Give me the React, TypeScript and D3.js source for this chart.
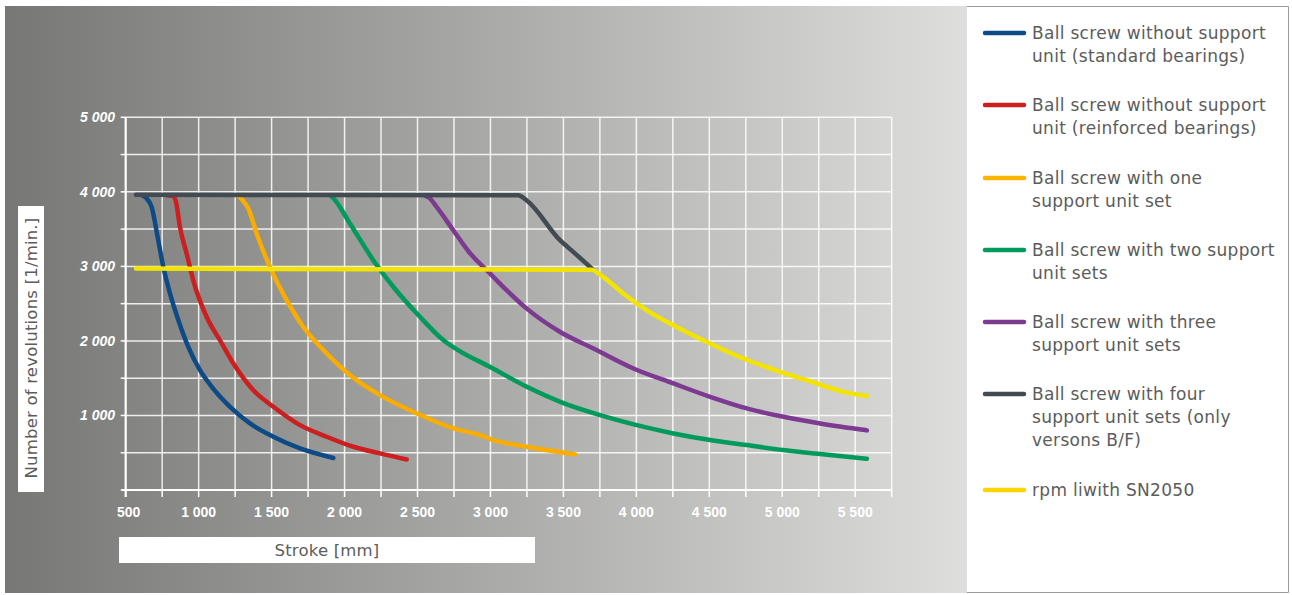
import React from "react";
import * as d3 from "d3";

const xTicks = [500, 1000, 1500, 2000, 2500, 3000, 3500, 4000, 4500, 5000, 5500];
const xTickLabels = ["500", "1 000", "1 500", "2 000", "2 500", "3 000", "3 500", "4 000", "4 500", "5 000", "5 500"];
const yTicks = [1000, 2000, 3000, 4000, 5000];
const yTickLabels = ["1 000", "2 000", "3 000", "4 000", "5 000"];

const blue: [number, number][] = [
  [615, 3950], [640, 3920], [678, 3794], [723, 3348], [758, 2991], [804, 2634], [861, 2277], [929, 1919],
  [1009, 1607], [1090, 1384], [1215, 1116], [1352, 893], [1512, 714], [1695, 558], [1923, 430],
];
const red: [number, number][] = [
  [790, 3950], [830, 3940], [845, 3860], [872, 3526], [918, 3170], [963, 2812], [1055, 2321], [1146, 2009],
  [1238, 1697], [1375, 1339], [1512, 1116], [1695, 870], [1878, 714], [2060, 580], [2243, 491], [2426, 410],
];
const orange: [number, number][] = [
  [1270, 3950], [1300, 3890], [1341, 3772], [1398, 3438], [1489, 2991], [1604, 2545], [1718, 2187], [1878, 1831],
  [2038, 1540], [2243, 1272], [2495, 1027], [2746, 826], [2929, 737], [3020, 670], [3249, 580], [3580, 478],
];
const green: [number, number][] = [
  [1905, 3950], [1930, 3900], [2038, 3572], [2198, 3080], [2335, 2723], [2518, 2321], [2678, 2009], [2792, 1860],
  [2998, 1651], [3249, 1384], [3478, 1183], [3752, 1004], [4003, 870], [4254, 759], [4506, 670], [4757, 603],
  [5008, 536], [5260, 482], [5580, 420],
];
const purple: [number, number][] = [
  [2550, 3950], [2580, 3920], [2632, 3794], [2746, 3482], [2850, 3200], [2998, 2902], [3112, 2678], [3249, 2433],
  [3478, 2120], [3706, 1898], [3980, 1630], [4254, 1429], [4506, 1250], [4757, 1094], [5008, 982], [5260, 893],
  [5580, 800],
];
const darkGray: [number, number][] = [
  [570, 3960], [3190, 3955], [3249, 3884], [3478, 3348], [3569, 3192], [3706, 2950],
];
const yellow: [number, number][] = [
  [570, 2970], [3690, 2955], [3774, 2857], [3912, 2634], [4072, 2411], [4254, 2210], [4483, 1986], [4734, 1764],
  [4986, 1585], [5237, 1429], [5420, 1317], [5580, 1260],
];

const seriesNames = [
  "Ball screw without support unit (standard bearings)",
  "Ball screw without support unit (reinforced bearings)",
  "Ball screw with one support unit set",
  "Ball screw with two support unit sets",
  "Ball screw with three support unit sets",
  "Ball screw with four support unit sets (only versons B/F)",
  "rpm liwith SN2050",
];
const legendLines = [
  ["Ball screw without support", "unit (standard bearings)"],
  ["Ball screw without support", "unit (reinforced bearings)"],
  ["Ball screw with one", "support unit set"],
  ["Ball screw with two support", "unit sets"],
  ["Ball screw with three", "support unit sets"],
  ["Ball screw with four", "support unit sets (only", "versons B/F)"],
  ["rpm liwith SN2050"],
];
const seriesData = [blue, red, orange, green, purple, darkGray, yellow];
const lineColors = ["#0e4b86", "#cc1f1f", "#f8ad00", "#009a5c", "#7d3a91", "#414b51", "#f2e400"];
const legendColors = ["#0e4b86", "#cc1f1f", "#fbb400", "#009a5c", "#7d3a91", "#414b51", "#ffd400"];

export default function App() {
  const x = d3.scaleLinear().domain([500, 5750]).range([125.7, 891.7]);
  const y = d3.scaleLinear().domain([0, 5000]).range([490, 117.3]);
  const line = d3
    .line<[number, number]>()
    .x((d) => x(d[0]))
    .y((d) => y(d[1]))
    .curve(d3.curveMonotoneX);

  const vGrid = d3.range(750, 5751, 250);
  const hGrid = d3.range(500, 5001, 500);
  const xMinor = d3.range(500, 5751, 250);
  const yMinor = d3.range(0, 5001, 500);

  const legendY = [33, 105, 178, 250, 322, 394, 490];
  const font = "'DejaVu Sans', 'Liberation Sans', Arial, sans-serif";

  return (
    <svg
      width={1292}
      height={595}
      style={{ position: "absolute", left: 0, top: 0, display: "block" }}
      xmlns="http://www.w3.org/2000/svg"
    >
      <defs>
        <linearGradient id="bg" x1="0" x2="1" y1="0" y2="0">
          <stop offset="0" stopColor="#777775" />
          <stop offset="0.5" stopColor="#a9a9a8" />
          <stop offset="1" stopColor="#dededd" />
        </linearGradient>
      </defs>
      <rect x={0} y={0} width={1292} height={595} fill="#ffffff" />
      <rect x={5} y={6} width={962} height={587} fill="url(#bg)" />
      {/* legend box */}
      <rect x={967} y={6} width={321} height={587} fill="#ffffff" />
      <path d="M967,6.5 H1288.5 V592.5 H967" fill="none" stroke="#9a9a9a" strokeWidth={1} />

      {/* grid */}
      <g stroke="#ffffff" strokeOpacity={0.85} strokeWidth={1.5}>
        {vGrid.map((v) => (
          <line key={"v" + v} x1={x(v)} x2={x(v)} y1={y(5000)} y2={y(0)} />
        ))}
        {hGrid.map((v) => (
          <line key={"h" + v} x1={x(500)} x2={x(5750)} y1={y(v)} y2={y(v)} />
        ))}
      </g>
      {/* axes */}
      <g stroke="#ffffff" strokeWidth={2.2}>
        <line x1={x(500)} x2={x(500)} y1={y(5000)} y2={y(0) + 7} />
        <line x1={x(500) - 4} x2={x(5750)} y1={y(0)} y2={y(0)} />
      </g>
      <g stroke="#ffffff" strokeWidth={1.5}>
        {xMinor.map((v) => (
          <line key={"xt" + v} x1={x(v)} x2={x(v)} y1={y(0)} y2={y(0) + 7} />
        ))}
        {yMinor.map((v) => (
          <line key={"yt" + v} x1={x(500) - 5} x2={x(500)} y1={y(v)} y2={y(v)} />
        ))}
      </g>
      {/* tick labels */}
      <g fill="#ffffff" fontFamily="'Liberation Sans', Arial, sans-serif" fontWeight="bold" fontSize={14}>
        {xTicks.map((v, i) => (
          <text key={"xl" + v} x={x(v) + (i === 0 ? 3 : 0)} y={517} textAnchor="middle">
            {xTickLabels[i]}
          </text>
        ))}
        {yTicks.map((v, i) => (
          <text key={"yl" + v} x={115} y={y(v) + 5} textAnchor="end" fontStyle="italic">
            {yTickLabels[i]}
          </text>
        ))}
      </g>

      {/* series */}
      {seriesData.map((d, i) => (
        <path
          key={seriesNames[i]}
          d={line(d) || ""}
          fill="none"
          stroke={lineColors[i]}
          strokeWidth={4.5}
          strokeLinecap="round"
          strokeLinejoin="round"
        />
      ))}

      {/* axis titles */}
      <rect x={119} y={537} width={416} height={26} fill="#ffffff" />
      <text x={327} y={556} textAnchor="middle" fontFamily={font} fontSize={16.5} letterSpacing={0.2} fill="#5c5c5c">
        Stroke [mm]
      </text>
      <rect x={18} y={206} width={26} height={286} fill="#ffffff" />
      <text
        transform="translate(37,348) rotate(-90)"
        textAnchor="middle"
        fontFamily={font}
        fontSize={16.5}
        letterSpacing={0.2}
        fill="#5c5c5c"
      >
        Number of revolutions [1/min.]
      </text>

      {/* legend */}
      {legendLines.map((lines, i) => (
        <g key={"lg" + i}>
          <line
            x1={985}
            x2={1024}
            y1={legendY[i]}
            y2={legendY[i]}
            stroke={legendColors[i]}
            strokeWidth={4.5}
            strokeLinecap="round"
          />
          {lines.map((t, j) => (
            <text
              key={j}
              x={1032}
              y={legendY[i] + 6 + j * 23}
              fontFamily={font}
              fontSize={17}
              letterSpacing={0.3}
              fill="#5c5c5c"
            >
              {t}
            </text>
          ))}
        </g>
      ))}
    </svg>
  );
}
